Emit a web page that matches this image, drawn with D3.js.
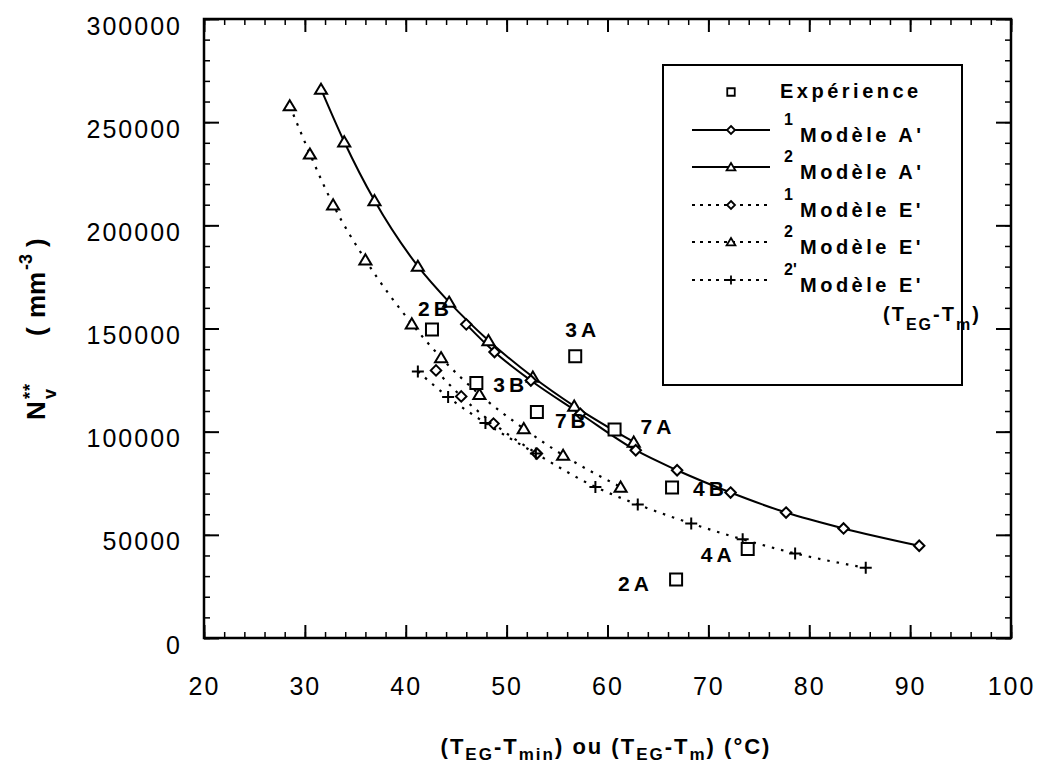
<!DOCTYPE html>
<html>
<head>
<meta charset="utf-8">
<script src="https://cdn.jsdelivr.net/npm/d3@7"></script>
<style>
  html, body { margin: 0; padding: 0; background: #fff; }
  svg { display: block; }
  text { font-family: "Liberation Sans", Arial, Helvetica, sans-serif; fill: #000; }
</style>
</head>
<body>
<svg id="chart" width="1040" height="767"></svg>
<script>
// ---------- data ----------
const xTicks = [20, 30, 40, 50, 60, 70, 80, 90, 100];
const yTicks = [0, 50000, 100000, 150000, 200000, 250000, 300000];

const expX = [42.6, 56.8, 47.0, 53.0, 60.7, 66.4, 73.9, 66.8];
const expY = [149500, 136500, 123600, 109500, 101000, 72900, 43100, 28400];
const expLabels = ["2B", "3A", "3B", "7B", "7A", "4B", "4A", "2A"];

const modA1X = [46.0, 48.8, 52.4, 57.3, 62.8, 66.9, 72.2, 77.7, 83.4, 90.9];
const modA1Y = [152000, 138600, 124800, 108700, 91000, 81300, 70500, 60800, 53100, 44700];

const modA2X = [31.6, 33.9, 36.9, 41.2, 44.3, 48.2, 52.6, 56.7, 62.6];
const modA2Y = [266000, 240500, 212000, 180200, 162800, 144200, 126500, 112400, 95000];

const modE1X = [43.0, 45.5, 48.7, 53.0];
const modE1Y = [129700, 117100, 103900, 89400];

const modE2X = [28.5, 30.5, 32.8, 36.0, 40.6, 43.5, 47.3, 51.7, 55.6, 61.3];
const modE2Y = [258000, 234600, 210000, 183300, 152300, 135900, 118100, 101500, 88600, 73200];

const modE2pX = [41.2, 44.2, 47.9, 52.9, 58.8, 63.0, 68.3, 73.4, 78.6, 85.6];
const modE2pY = [129200, 116800, 104200, 89400, 73200, 64700, 55500, 47800, 41000, 34000];

const legendSup = ["", "1", "2", "1", "2", "2'"];
const legendText = ["Expérience", "Modèle A'", "Modèle A'", "Modèle E'", "Modèle E'", "Modèle E'"];

// ---------- setup ----------
const svg = d3.select("#chart");
svg.append("rect").attr("width", 1040).attr("height", 767).attr("fill", "#fff");

const x = d3.scaleLinear().domain([20, 100]).range([204, 1011]);
const y = d3.scaleLinear().domain([0, 300000]).range([638, 19]);

// symbol types (stroke-style)
const symSquare = { draw(ctx, s) { const r = Math.sqrt(s) / 2; ctx.moveTo(-r, -r); ctx.lineTo(r, -r); ctx.lineTo(r, r); ctx.lineTo(-r, r); ctx.closePath(); } };
const symDiamond = { draw(ctx, s) { const r = Math.sqrt(s) / 2; ctx.moveTo(0, -r); ctx.lineTo(r, 0); ctx.lineTo(0, r); ctx.lineTo(-r, 0); ctx.closePath(); } };
const symTriangle = { draw(ctx, s) { const r = Math.sqrt(s) / 2; ctx.moveTo(0, -r); ctx.lineTo(r * 1.1, r * 0.85); ctx.lineTo(-r * 1.1, r * 0.85); ctx.closePath(); } };
const symPlus = { draw(ctx, s) { const r = Math.sqrt(s) / 2; ctx.moveTo(-r, 0); ctx.lineTo(r, 0); ctx.moveTo(0, -r); ctx.lineTo(0, r); } };

function zip(xs, ys) { return xs.map((v, i) => [v, ys[i]]); }

const line = d3.line().x(d => x(d[0])).y(d => y(d[1])).curve(d3.curveMonotoneX);

const series = [
  { pts: zip(modA2X, modA2Y), sym: symTriangle, size: 121, dash: null },
  { pts: zip(modA1X, modA1Y), sym: symDiamond, size: 110, dash: null },
  { pts: zip(modE2X, modE2Y), sym: symTriangle, size: 121, dash: "2.5,7" },
  { pts: zip(modE1X, modE1Y), sym: symDiamond, size: 110, dash: "2.5,7" },
  { pts: zip(modE2pX, modE2pY), sym: symPlus, size: 144, dash: "2.5,7" }
];

// ---------- lines ----------
const gLines = svg.append("g");
series.forEach(s => {
  gLines.append("path").datum(s.pts)
    .attr("d", line)
    .attr("fill", "none")
    .attr("stroke", "#000")
    .attr("stroke-width", s.dash ? 2.2 : 2)
    .attr("stroke-dasharray", s.dash);
});

// ---------- markers ----------
const gMarks = svg.append("g");
series.forEach(s => {
  gMarks.selectAll(null).data(s.pts).join("path")
    .attr("transform", d => `translate(${x(d[0])},${y(d[1])})`)
    .attr("d", d3.symbol().type(s.sym).size(s.size))
    .attr("fill", s.sym === symPlus ? "none" : "#fff")
    .attr("stroke", "#000")
    .attr("stroke-width", 2);
});

// experiment squares
const expPts = zip(expX, expY);
gMarks.selectAll(null).data(expPts).join("path")
  .attr("transform", d => `translate(${x(d[0])},${y(d[1])})`)
  .attr("d", d3.symbol().type(symSquare).size(144))
  .attr("fill", "#fff")
  .attr("stroke", "#000")
  .attr("stroke-width", 2);

// point labels
const labelOffset = { "2B": [-14, -14], "3A": [-10, -19], "3B": [17, 9], "7B": [18, 16],
  "7A": [26, 4], "4B": [21, 8], "4A": [-47, 13], "2A": [-58, 12] };
svg.append("g").selectAll("text").data(expLabels).join("text")
  .attr("x", (d, i) => x(expX[i]) + labelOffset[d][0])
  .attr("y", (d, i) => y(expY[i]) + labelOffset[d][1])
  .style("font-size", "21px").style("font-weight", "bold").style("letter-spacing", "4px")
  .text(d => d);

// ---------- axes ----------
function styleAxis(g, width) {
  g.select(".domain").remove();
  g.selectAll(".tick line").attr("stroke", "#000").attr("stroke-width", width);
}
const minorX = d3.range(20, 101, 2);
const minorY = d3.range(0, 300001, 10000);

// bottom
svg.append("g").attr("transform", `translate(0,${y(0)})`)
  .call(d3.axisBottom(x).tickValues(minorX).tickSize(-6).tickFormat(""))
  .call(g => styleAxis(g, 1.5));
const gxb = svg.append("g").attr("transform", `translate(0,${y(0)})`)
  .call(d3.axisBottom(x).tickValues(xTicks).tickSize(-13).tickPadding(39).tickFormat(d3.format("d")))
  .call(g => styleAxis(g, 2));
gxb.selectAll("text").style("font-size", "25px").style("letter-spacing", "2px").attr("fill", "#000")
  .style("font-family", "Liberation Sans, Arial, sans-serif");

// top
svg.append("g").attr("transform", `translate(0,${y(300000)})`)
  .call(d3.axisTop(x).tickValues(minorX).tickSize(-6).tickFormat(""))
  .call(g => styleAxis(g, 1.5));
svg.append("g").attr("transform", `translate(0,${y(300000)})`)
  .call(d3.axisTop(x).tickValues(xTicks).tickSize(-13).tickFormat(""))
  .call(g => styleAxis(g, 2));

// left
svg.append("g").attr("transform", `translate(${x(20)},0)`)
  .call(d3.axisLeft(y).tickValues(minorY).tickSize(-6).tickFormat(""))
  .call(g => styleAxis(g, 1.5));
const gyl = svg.append("g").attr("transform", `translate(${x(20)},0)`)
  .call(d3.axisLeft(y).tickValues(yTicks).tickSize(-15).tickPadding(22).tickFormat(d3.format("d")))
  .call(g => styleAxis(g, 2));
gyl.selectAll("text").style("font-size", "25px").style("letter-spacing", "2px").attr("dy", "0.6em")
  .attr("fill", "#000").style("font-family", "Liberation Sans, Arial, sans-serif");

// right
svg.append("g").attr("transform", `translate(${x(100)},0)`)
  .call(d3.axisRight(y).tickValues(minorY).tickSize(-6).tickFormat(""))
  .call(g => styleAxis(g, 1.5));
svg.append("g").attr("transform", `translate(${x(100)},0)`)
  .call(d3.axisRight(y).tickValues(yTicks).tickSize(-15).tickFormat(""))
  .call(g => styleAxis(g, 2));

// frame
svg.append("rect")
  .attr("x", x(20)).attr("y", y(300000))
  .attr("width", x(100) - x(20)).attr("height", y(0) - y(300000))
  .attr("fill", "none").attr("stroke", "#000").attr("stroke-width", 2.5);

// ---------- axis titles ----------
const xt = svg.append("text").attr("x", 606).attr("y", 754).attr("text-anchor", "middle")
  .style("font-size", "22px").style("font-weight", "bold").style("letter-spacing", "2px");
function addT(parent, parts) {
  parts.forEach(p => {
    const t = parent.append("tspan").text(p[0]);
    if (p[1]) t.attr("dy", p[1]);
    if (p[2]) t.style("font-size", p[2]);
  });
}
addT(xt, [["(T"], ["EG", 6, "17px"], ["-", -6], ["T"], ["min", 6, "17px"], [")", -6],
  [" ou (T"], ["EG", 6, "17px"], ["-", -6], ["T"], ["m", 6, "17px"], [")", -6], ["  (°C)"]]);

const yt = svg.append("g").attr("transform", "translate(45,420) rotate(-90)");
const ytt = yt.append("text").style("font-size", "26px").style("font-weight", "bold");
ytt.append("tspan").attr("x", 0).attr("y", 0).text("N");
ytt.append("tspan").attr("x", 21).attr("y", 11).style("font-size", "18px").text("v");
ytt.append("tspan").attr("x", 21).attr("y", -9).style("font-size", "18px").style("letter-spacing", "1px").text("**");
ytt.append("tspan").attr("x", 84).attr("y", 0).text("(");
ytt.append("tspan").attr("x", 102).attr("y", 0).text("mm");
ytt.append("tspan").attr("x", 150).attr("y", -13).style("font-size", "18px").text("-3");
ytt.append("tspan").attr("x", 173).attr("y", 0).text(")");

// ---------- legend ----------
const lg = svg.append("g");
lg.append("rect").attr("x", 663).attr("y", 65).attr("width", 299).attr("height", 320)
  .attr("fill", "#fff").attr("stroke", "#000").attr("stroke-width", 2);
const legendSyms = [symSquare, symDiamond, symTriangle, symDiamond, symTriangle, symPlus];
const legendDash = [null, null, null, "3,5", "3,5", "3,5"];
const rowY = [92, 130, 167, 205, 242, 280];
legendText.forEach((t, i) => {
  const cy = rowY[i];
  if (i > 0) {
    lg.append("line").attr("x1", 692).attr("x2", 770).attr("y1", cy).attr("y2", cy)
      .attr("stroke", "#000").attr("stroke-width", 2).attr("stroke-dasharray", legendDash[i]);
  }
  lg.append("path").attr("transform", `translate(731,${cy})`)
    .attr("d", d3.symbol().type(legendSyms[i]).size(i === 0 ? 56 : (legendSyms[i] === symPlus ? 81 : 64)))
    .attr("fill", legendSyms[i] === symPlus ? "none" : "#fff").attr("stroke", "#000").attr("stroke-width", 1.8);
  if (i === 0) {
    lg.append("text").attr("x", 780).attr("y", cy + 6)
      .style("font-size", "20px").style("font-weight", "bold").style("letter-spacing", "3.5px").text(t);
  } else {
    lg.append("text").attr("x", 784).attr("y", cy - 5)
      .style("font-size", "16px").style("font-weight", "bold").text(legendSup[i]);
    lg.append("text").attr("x", 800).attr("y", cy + 12)
      .style("font-size", "20px").style("font-weight", "bold").style("letter-spacing", "3.5px").text(t);
  }
});
const lt = lg.append("text").attr("x", 883).attr("y", 321)
  .style("font-size", "20px").style("font-weight", "bold").style("letter-spacing", "2px");
addT(lt, [["(T"], ["EG", 9, "16px"], ["-", -9], ["T"], ["m", 9, "16px"], [")", -9]]);
</script>
</body>
</html>
